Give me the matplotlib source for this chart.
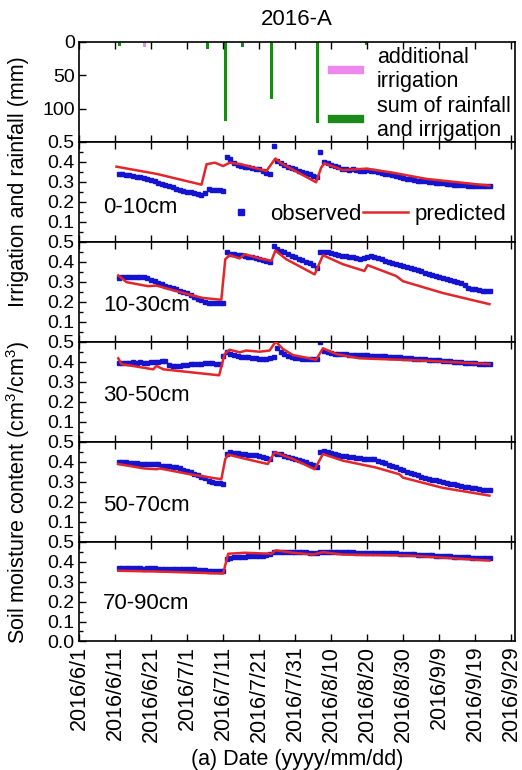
import numpy as np
import pandas as pd
import matplotlib
matplotlib.use("Agg")
import matplotlib.pyplot as plt
from matplotlib.lines import Line2D

plt.rcParams["font.family"] = ["Liberation Sans", "DejaVu Sans"]
plt.rcParams["mathtext.default"] = "regular"

START = pd.Timestamp("2016-06-01")

# rainfall / irrigation (days after 2016/6/1, mm)
rain_days = [11.2, 35.6, 40.7, 45.4, 53.4, 66.1, 79.9]
rain_mm = [6, 11, 118, 7, 86, 122, 4]
irr_days = [18.3]
irr_mm = [7]

# observed soil moisture, one reading per day starting 2016/6/12
obs_start = "2016-06-12"
obs_0_10 = [
    .340, .338, .336, .333, .330, .326, .322, .318, .314, .308,
    .302, .296, .290, .284, .278, .272, .266, .260, .255, .251,
    .247, .243, .240, .236, .245, .262, .260, .258, .257, .255,
    .422, .412, .395, .385, .380, .376, .372, .370, .366, .362,
    .355, .345, .340, .478, .405, .395, .385, .375, .368, .362,
    .356, .350, .345, .338, .330, .323, .447, .400, .392, .385,
    .378, .372, .366, .362, .360, .362, .360, .356, .355, .358,
    .356, .352, .348, .344, .340, .337, .334, .330, .326, .321,
    .316, .312, .308, .306, .304, .302, .300, .298, .296, .294,
    .292, .290, .288, .286, .284, .283, .282, .281, .280, .279,
    .279, .278, .278, .278]
obs_10_30 = [
    .320, .325, .325, .325, .325, .325, .324, .322, .317, .310,
    .302, .295, .288, .281, .274, .268, .262, .256, .250, .243,
    .235, .226, .216, .207, .199, .196, .195, .194, .194, .194,
    .450, .440, .437, .435, .433, .430, .426, .422, .418, .414,
    .410, .405, .400, .478, .462, .455, .447, .438, .430, .423,
    .415, .408, .400, .392, .382, .371, .450, .450, .448, .444,
    .440, .435, .430, .428, .425, .422, .418, .416, .418, .424,
    .427, .422, .417, .412, .406, .401, .396, .390, .385, .380,
    .374, .369, .364, .358, .352, .346, .341, .336, .330, .325,
    .320, .315, .310, .305, .300, .295, .285, .270, .266, .262,
    .259, .256, .254, .252]
obs_30_50 = [
    .393, .395, .396, .396, .397, .396, .397, .396, .396, .397,
    .398, .400, .402, .405, .385, .380, .379, .381, .384, .386,
    .388, .389, .390, .391, .392, .393, .392, .390, .388, .430,
    .447, .438, .433, .428, .424, .423, .422, .421, .418, .415,
    .413, .415, .420, .422, .467, .447, .438, .430, .424, .420,
    .418, .416, .415, .414, .413, .412, .498, .456, .450, .445,
    .441, .439, .438, .437, .436, .435, .434, .433, .432, .432,
    .431, .430, .429, .428, .427, .425, .424, .423, .422, .421,
    .419, .418, .416, .415, .414, .413, .411, .410, .408, .407,
    .405, .404, .402, .401, .399, .398, .396, .395, .393, .392,
    .391, .390, .389, .388]
obs_50_70 = [
    .400, .398, .396, .394, .393, .392, .390, .388, .388, .388,
    .388, .390, .378, .377, .376, .374, .371, .366, .360, .354,
    .347, .340, .332, .324, .316, .305, .298, .294, .291, .290,
    .440, .447, .445, .442, .440, .436, .434, .433, .432, .430,
    .425, .418, .413, .442, .440, .436, .430, .425, .420, .414,
    .408, .402, .396, .390, .382, .373, .446, .452, .448, .444,
    .440, .435, .430, .427, .424, .422, .419, .417, .414, .413,
    .413, .411, .405, .399, .392, .385, .379, .372, .365, .358,
    .350, .343, .337, .331, .325, .320, .315, .310, .306, .302,
    .298, .294, .290, .286, .282, .278, .275, .272, .269, .266,
    .263, .260, .258, .256]
obs_70_90 = [
    .366, .368, .367, .366, .367, .366, .366, .365, .366, .366,
    .366, .365, .365, .364, .364, .363, .363, .362, .362, .362,
    .361, .362, .360, .358, .356, .355, .354, .354, .354, .354,
    .413, .420, .425, .425, .425, .425, .426, .426, .427, .428,
    .430, .432, .440, .447, .448, .448, .448, .447, .447, .447,
    .446, .446, .446, .445, .445, .445, .447, .448, .448, .447,
    .447, .447, .446, .446, .446, .446, .445, .445, .445, .445,
    .444, .444, .444, .443, .443, .442, .442, .441, .440, .439,
    .438, .437, .436, .435, .434, .433, .432, .431, .430, .429,
    .428, .427, .426, .425, .424, .423, .422, .421, .420, .420,
    .419, .419, .418, .418]

# predicted soil moisture (days after 2016/6/1, value)
pred_0_10_d = [10.4, 21.5, 34.0, 35.4, 37.7, 40.0, 41.8, 45.0, 52.0, 54.5, 56.1,
               65.8, 67.2, 68.1, 73.2, 79.7, 87.1, 96.3, 113.9]
pred_0_10_v = [.376, .340, .286, .388, .396, .379, .396, .388, .354, .417, .393,
               .298, .371, .393, .359, .366, .346, .315, .281]
pred_10_30_d = [10.9, 13.2, 19.2, 21.5, 31.6, 34.4, 39.5, 40.6, 41.8, 44.6, 46.0,
                50.1, 53.4, 54.5, 57.5, 65.4, 67.7, 73.2, 79.2, 80.1, 88.0, 89.9,
                100.9, 113.9]
pred_10_30_v = [.332, .298, .278, .281, .231, .219, .210, .413, .433, .417, .438,
                .417, .405, .456, .413, .337, .433, .388, .354, .383, .329, .303,
                .244, .188]
pred_30_50_d = [10.9, 11.8, 20.6, 21.5, 23.4, 31.6, 38.9, 40.4, 41.8, 44.6, 46.4,
                50.1, 52.9, 54.6, 56.6, 59.4, 65.8, 67.7, 71.4, 77.8, 96.3, 113.9]
pred_30_50_v = [.417, .388, .362, .379, .362, .346, .332, .438, .460, .447, .456,
                .450, .456, .501, .464, .433, .410, .467, .438, .417, .405, .388]
pred_50_70_d = [10.9, 18.0, 21.5, 22.4, 31.6, 39.5, 40.6, 41.4, 46.4, 52.4, 54.3,
                59.4, 65.4, 67.7, 73.2, 82.3, 88.9, 89.9, 100.9, 113.9]
pred_50_70_v = [.388, .366, .362, .366, .334, .312, .413, .435, .413, .388, .447,
                .413, .362, .438, .405, .371, .337, .320, .269, .230]
pred_70_90_d = [10.9, 22.0, 40.0, 41.4, 46.0, 53.4, 54.6, 59.4, 65.0, 67.7, 73.2,
                91.6, 113.9]
pred_70_90_v = [.354, .350, .340, .439, .444, .439, .456, .444, .435, .447, .435,
                .430, .405]

layers = ["0-10cm", "10-30cm", "30-50cm", "50-70cm", "70-90cm"]
observed = [obs_0_10, obs_10_30, obs_30_50, obs_50_70, obs_70_90]
predicted = [(pred_0_10_d, pred_0_10_v), (pred_10_30_d, pred_10_30_v),
             (pred_30_50_d, pred_30_50_v), (pred_50_70_d, pred_50_70_v),
             (pred_70_90_d, pred_70_90_v)]
label_y = [0.34, 0.36, 0.46, 0.36, 0.38]


def to_dates(days):
    return START + pd.to_timedelta(np.asarray(days, dtype=float), unit="D")


BLUE = "#1414d0"
RED = "#e3262a"
GREEN = "#1b8a1b"
PINK = "#ee88ee"

fig, axes = plt.subplots(6, 1, figsize=(5.22, 7.7), dpi=100, sharex=True)
fig.subplots_adjust(left=0.1513, right=0.9866, top=0.9455, bottom=0.1669, hspace=0)

xticks = pd.date_range("2016-06-01", "2016-09-29", freq="10D")
xlabels = [f"{d.year}/{d.month}/{d.day}" for d in xticks]

# top panel: rainfall and irrigation, hanging from the top
ax = axes[0]
ax.bar(to_dates(rain_days), rain_mm, width=0.8, color=GREEN)
ax.bar(to_dates(irr_days), irr_mm, width=0.8, color=PINK)
ax.set_ylim(150, 0)
ax.set_yticks([0, 50, 100])
handles = [Line2D([], [], color=PINK, lw=6), Line2D([], [], color=GREEN, lw=6)]
ax.legend(handles, ["additional\nirrigation", "sum of rainfall\nand irrigation"],
          loc="center right", bbox_to_anchor=(1.01, 0.48), frameon=False,
          fontsize=15.5, handlelength=1.3, handletextpad=0.8, labelspacing=0.2,
          borderaxespad=0)
ax.set_title("2016-A", fontsize=16, pad=12)

for i, ax in enumerate(axes[1:]):
    obs_dates = pd.date_range(obs_start, periods=len(observed[i]), freq="D")
    ax.plot(obs_dates, observed[i], ls="none", marker="s", ms=3.4, color=BLUE,
            mec=BLUE, label="observed", zorder=2)
    pd_days, pd_vals = predicted[i]
    ax.plot(to_dates(pd_days), pd_vals, color=RED, lw=1.8, label="predicted", zorder=3)
    ax.set_ylim(0, 0.5)
    if i == 4:
        ax.set_yticks([0.0, 0.1, 0.2, 0.3, 0.4, 0.5])
    else:
        ax.set_yticks([0.1, 0.2, 0.3, 0.4, 0.5])
    ax.set_yticks(np.arange(0.05, 0.5, 0.1), minor=True)
    ax.yaxis.set_major_formatter(plt.FormatStrFormatter("%.1f"))
    ax.text(0.055, label_y[i], layers[i], transform=ax.transAxes, fontsize=16,
            va="center", ha="left")
    if i == 0:
        ax.legend(loc="lower right", bbox_to_anchor=(1.0, 0.08), ncol=2,
                  frameon=False, fontsize=16, handlelength=2.0,
                  handletextpad=0.3, columnspacing=0.1, borderaxespad=0,
                  markerscale=1.2)

for ax in axes:
    ax.set_xlim(pd.Timestamp("2016-06-01"), pd.Timestamp("2016-09-30"))
    ax.set_xticks(xticks)
    ax.tick_params(axis="x", which="both", direction="in", top=True, bottom=True,
                   length=5, width=1)
    ax.tick_params(axis="y", which="major", direction="in", left=True, right=False,
                   length=5, width=1, labelsize=14, pad=3)
    ax.tick_params(axis="y", which="minor", direction="in", left=True, right=False,
                   length=3, width=1)
    for s in ax.spines.values():
        s.set_linewidth(1.2)

axes[-1].set_xticklabels(xlabels, rotation=90, fontsize=15.5)
axes[-1].tick_params(axis="x", pad=3)
axes[-1].set_xlabel("(a) Date (yyyy/mm/dd)", fontsize=15.5, labelpad=5)

fig.text(0.035, 1 - 182 / 770, "Irrigation and rainfall (mm)", rotation=90,
         ha="center", va="center", fontsize=15.5)
fig.text(0.035, 1 - 492 / 770, "Soil moisture content (cm$^3$/cm$^3$)", rotation=90,
         ha="center", va="center", fontsize=15.5)

fig.savefig("out.png", dpi=100)
